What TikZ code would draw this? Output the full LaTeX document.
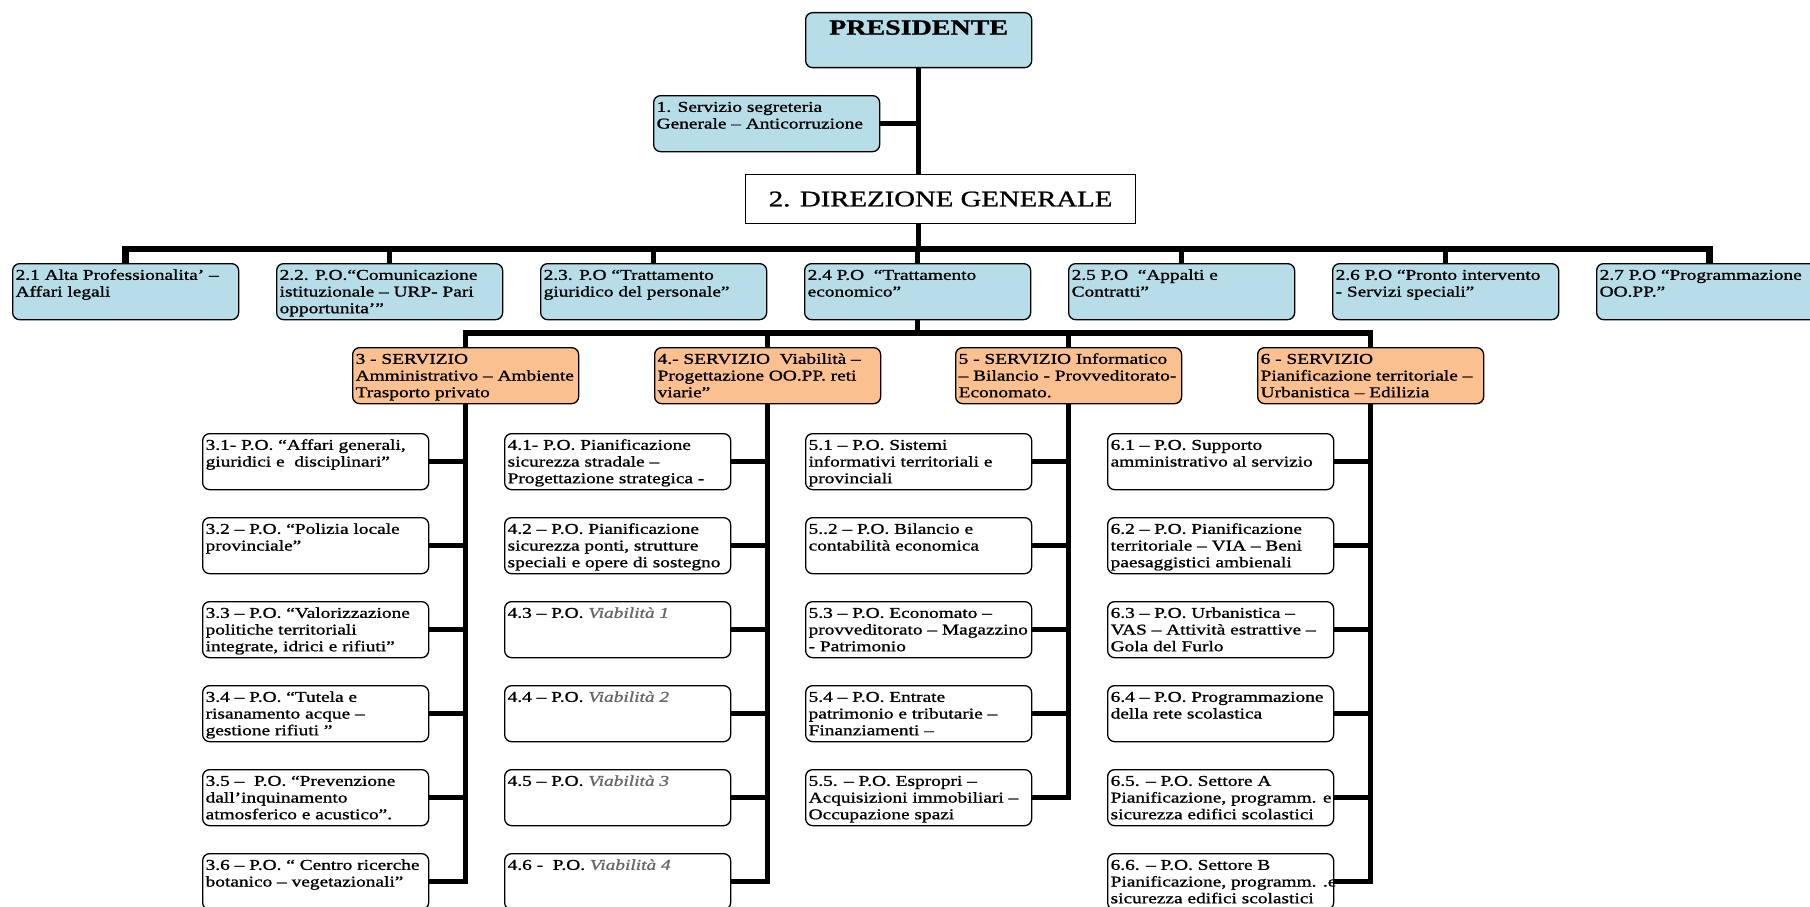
\documentclass[tikz,border=0pt]{standalone}
\usepackage{fontspec}
\setmainfont{Liberation Serif}[FakeStretch=1.29, FakeBold=1.1]
\definecolor{blueC}{HTML}{B7DDE8}
\definecolor{orangeC}{HTML}{FAC090}
\newcommand{\bt}[1]{\parbox[c][47pt][t]{220pt}{\strut\begin{tabular}[t]{@{}l@{}}#1\end{tabular}}}
\newcommand{\vi}[1]{\textcolor{black!60}{\itshape #1}}
\tikzset{
  box/.style={draw=black, line width=1.3pt, rounded corners=7pt, inner xsep=3pt, inner ysep=4.5pt,
    anchor=north west, font=\fontsize{15}{16.7}\selectfont},
  bluebox/.style={box, fill=blueC},
  orbox/.style={box, fill=orangeC},
  whbox/.style={box, fill=white},
  conn/.style={line width=5.5pt, line join=miter},
  busline/.style={line width=6.5pt, line join=miter},
}
\begin{document}
\begin{tikzpicture}[x=1pt,y=-1pt]
\useasboundingbox (0,0) rectangle (1810,907);
\clip (0,0) rectangle (1810,907);
\fill[white] (0,0) rectangle (1810,907);

\coordinate (busy) at (0,249);
\coordinate (sbusy) at (0,333);

% top
\node[bluebox] (pres) at (805,12) {\parbox[c][46pt][t]{220pt}{\centering\fontsize{21.7}{25}\selectfont\bfseries\strut PRESIDENTE}};
\node[bluebox] (seg) at (653,95) {\bt{1. Servizio segreteria\\Generale – Anticorruzione}};
\node[draw=black, line width=1.2pt, fill=white, anchor=north west, minimum width=390pt, minimum height=49pt,
  font=\fontsize{22.3}{26}\selectfont] (dir) at (745,174) {2. DIREZIONE GENERALE};

% level 2
\node[bluebox] (b21) at (12,263) {\bt{2.1 Alta Professionalita' –\\Affari legali}};
\node[bluebox] (b22) at (276,263) {\bt{2.2. P.O.“Comunicazione\\istituzionale – URP- Pari\\opportunita'”}};
\node[bluebox] (b23) at (540,263) {\bt{2.3. P.O “Trattamento\\giuridico del personale”}};
\node[bluebox] (b24) at (804,263) {\bt{2.4 P.O \ “Trattamento\\economico”}};
\node[bluebox] (b25) at (1068,263) {\bt{2.5 P.O \ “Appalti e\\Contratti”}};
\node[bluebox] (b26) at (1332,263) {\bt{2.6 P.O “Pronto intervento\\- Servizi speciali”}};
\node[bluebox] (b27) at (1596,263) {\bt{2.7 P.O “Programmazione\\OO.PP.”}};

% services
\node[orbox] (s3) at (352,347) {\bt{3 - SERVIZIO\\Amministrativo – Ambiente\\Trasporto privato}};
\node[orbox] (s4) at (654,347) {\bt{4.- SERVIZIO \ Viabilità –\\Progettazione OO.PP. reti\\viarie”}};
\node[orbox] (s5) at (955,347) {\bt{5 - SERVIZIO Informatico\\– Bilancio - Provveditorato-\\Economato.}};
\node[orbox] (s6) at (1257,347) {\bt{6 - SERVIZIO\\Pianificazione territoriale –\\Urbanistica – Edilizia}};

% column 3
\node[whbox] (c31) at (202,433) {\bt{3.1- P.O. “Affari generali,\\giuridici e \ disciplinari”}};
\node[whbox] (c32) at (202,517) {\bt{3.2 – P.O. “Polizia locale\\provinciale”}};
\node[whbox] (c33) at (202,601) {\bt{3.3 – P.O. “Valorizzazione\\politiche territoriali\\integrate, idrici e rifiuti”}};
\node[whbox] (c34) at (202,685) {\bt{3.4 – P.O. “Tutela e\\risanamento acque –\\gestione rifiuti ”}};
\node[whbox] (c35) at (202,769) {\bt{3.5 – \ P.O. “Prevenzione\\dall’inquinamento\\atmosferico e acustico”.}};
\node[whbox] (c36) at (202,853) {\bt{3.6 – P.O. “ Centro ricerche\\botanico – vegetazionali”}};

% column 4
\node[whbox] (c41) at (504,433) {\bt{4.1- P.O. Pianificazione\\sicurezza stradale –\\Progettazione strategica -}};
\node[whbox] (c42) at (504,517) {\bt{4.2 – P.O. Pianificazione\\sicurezza ponti, strutture\\speciali e opere di sostegno}};
\node[whbox] (c43) at (504,601) {\bt{4.3 – P.O. \vi{Viabilità 1}}};
\node[whbox] (c44) at (504,685) {\bt{4.4 – P.O. \vi{Viabilità 2}}};
\node[whbox] (c45) at (504,769) {\bt{4.5 – P.O. \vi{Viabilità 3}}};
\node[whbox] (c46) at (504,853) {\bt{4.6 - \ P.O. \vi{Viabilità 4}}};

% column 5
\node[whbox] (c51) at (805,433) {\bt{5.1 – P.O. Sistemi\\informativi territoriali e\\provinciali}};
\node[whbox] (c52) at (805,517) {\bt{5..2 – P.O. Bilancio e\\contabilità economica}};
\node[whbox] (c53) at (805,601) {\bt{5.3 – P.O. Economato –\\provveditorato – Magazzino\\- Patrimonio}};
\node[whbox] (c54) at (805,685) {\bt{5.4 – P.O. Entrate\\patrimonio e tributarie –\\Finanziamenti –}};
\node[whbox] (c55) at (805,769) {\bt{5.5. – P.O. Espropri –\\Acquisizioni immobiliari –\\Occupazione spazi}};

% column 6
\node[whbox] (c61) at (1107,433) {\bt{6.1 – P.O. Supporto\\amministrativo al servizio}};
\node[whbox] (c62) at (1107,517) {\bt{6.2 – P.O. Pianificazione\\territoriale – VIA – Beni\\paesaggistici ambienali}};
\node[whbox] (c63) at (1107,601) {\bt{6.3 – P.O. Urbanistica –\\VAS – Attività estrattive –\\Gola del Furlo}};
\node[whbox] (c64) at (1107,685) {\bt{6.4 – P.O. Programmazione\\della rete scolastica}};
\node[whbox] (c65) at (1107,769) {\bt{6.5. – P.O. Settore A\\Pianificazione, programm. e\\sicurezza edifici scolastici}};
\node[whbox] (c66) at (1107,853) {\bt{6.6. – P.O. Settore B\\Pianificazione, programm. .e\\sicurezza edifici scolastici}};

% connectors top
\draw[conn] (pres.south) -- (pres.south |- dir.north);
\draw[conn] (seg.east) -- (seg.east -| pres.south);
\draw[conn] (pres.south |- dir.south) -- (pres.south |- busy);
\draw[busline] (b21.north) -- (b21.north |- busy) -- (b27.north |- busy) -- (b27.north);
\foreach \n in {b22,b23,b24,b25,b26} \draw[conn] (\n.north) -- (\n.north |- busy);

% service bus
\draw[conn] (b24.south) -- (b24.south |- sbusy);
\draw[conn] (s3.north) -- (s3.north |- sbusy) -- (s6.north |- sbusy) -- (s6.north);
\draw[conn] (s4.north) -- (s4.north |- sbusy);
\draw[conn] (s5.north) -- (s5.north |- sbusy);

% columns
\draw[conn] (s3.south) -- (s3.south |- c36.east) -- (c36.east);
\foreach \n in {c31,c32,c33,c34,c35} \draw[conn] (\n.east) -- (\n.east -| s3.south);
\draw[conn] (s4.south) -- (s4.south |- c46.east) -- (c46.east);
\foreach \n in {c41,c42,c43,c44,c45} \draw[conn] (\n.east) -- (\n.east -| s4.south);
\draw[conn] (s5.south) -- (s5.south |- c55.east) -- (c55.east);
\foreach \n in {c51,c52,c53,c54} \draw[conn] (\n.east) -- (\n.east -| s5.south);
\draw[conn] (s6.south) -- (s6.south |- c66.east) -- (c66.east);
\foreach \n in {c61,c62,c63,c64,c65} \draw[conn] (\n.east) -- (\n.east -| s6.south);
\end{tikzpicture}
\end{document}
